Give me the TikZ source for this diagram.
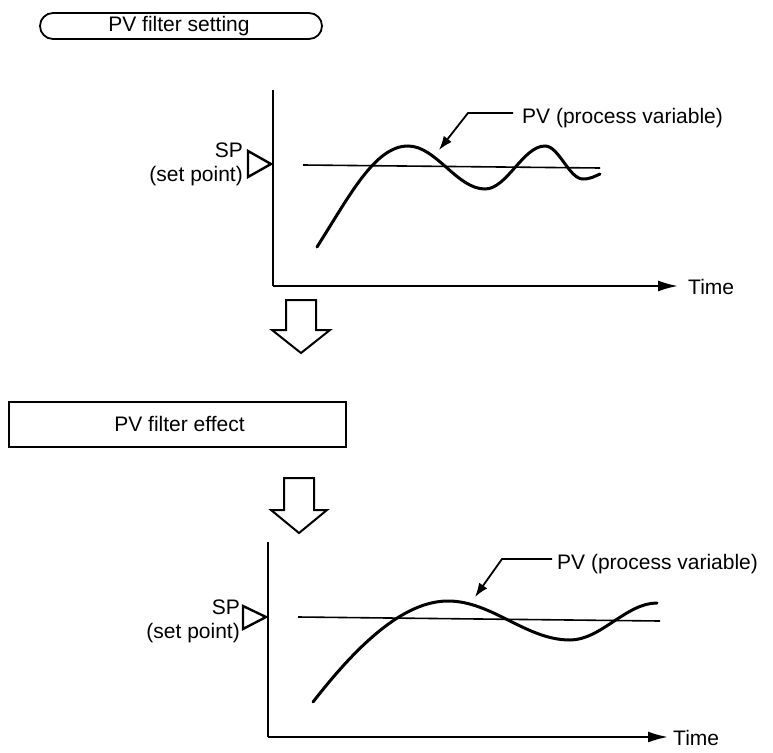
\documentclass[tikz,border=0pt]{standalone}
\usepackage{fontspec}
\setmainfont{Liberation Sans}
\usetikzlibrary{arrows.meta}
\begin{document}
\begin{tikzpicture}[x=1pt,y=-1pt,
  every node/.style={font=\fontsize{21}{24}\selectfont, inner sep=0pt},
  boxline/.style={line width=1.8pt},
  axisline/.style={line width=2pt, -{Latex[length=20pt,width=11pt]}},
  curveline/.style={line width=3pt, line cap=round},
  spline/.style={line width=1.6pt},
  spmark/.style={line width=2.4pt, line join=miter},
  leader/.style={line width=1.8pt, -{Latex[length=14pt,width=10pt]}},
  hollow/.style={line width=2pt, line join=miter}]
\useasboundingbox (0,0) rectangle (773,752);

% top title box
\node[draw, boxline, rounded corners=13pt, minimum width=282pt, minimum height=26pt] (title1) at (181,26) {};
\node (title1t) at (179,26) {PV filter setting};

% graph 1
\coordinate (o1) at (273,286);
\coordinate (ytop1) at (273,90);
\coordinate (xend1) at (678,286);
\draw[line width=2pt] (ytop1) -- (o1);
\draw[axisline] (o1) -- (xend1);
\node[anchor=west] (time1) at (688,287) {Time};
\draw[spline] (303,165) -- (600,168);
\draw[spmark] (248,151) -- (248,177) -- (271,164) -- cycle;
\node[anchor=north east, align=right] (sp1) at (243,143) {SP\\(set point)};
\draw[curveline] (317,247) .. controls (350,195) and (375,146) .. (408,146)
  .. controls (436,146) and (457,189) .. (485,189)
  .. controls (507,189) and (523,146) .. (545,146)
  .. controls (559,146) and (569,179) .. (583,179)
  .. controls (591,179) and (595,176) .. (600,174);
\node[anchor=base west] (pv1) at (522,123) {PV (process variable)};
\coordinate (lstart1) at (513,113);
\coordinate (bend1) at (468,113);
\coordinate (tip1) at (439,150);
\draw[leader] (lstart1) -- (bend1) -- (tip1);

% hollow arrow 1
\draw[hollow] (286,300) -- (316,300) -- (316,330) -- (330,330) -- (301,353) -- (272,330) -- (286,330) -- cycle;

% effect box
\node[draw, boxline, minimum width=337pt, minimum height=45pt] (box2) at (177.5,424.5) {};
\node (box2t) at (179.5,424) {PV filter effect};

% hollow arrow 2
\draw[hollow] (284,478) -- (314,478) -- (314,510) -- (327,510) -- (299,533) -- (271,510) -- (284,510) -- cycle;

% graph 2
\coordinate (o2) at (268,737);
\coordinate (ytop2) at (268,542);
\coordinate (xend2) at (668,737);
\draw[line width=2pt] (ytop2) -- (o2);
\draw[axisline] (o2) -- (xend2);
\node[anchor=west] (time2) at (673,738) {Time};
\draw[spline] (298,617) -- (660,621);
\draw[spmark] (243,606) -- (243,629) -- (266,617) -- cycle;
\node[anchor=north east, align=right] (sp2) at (240,600) {SP\\(set point)};
\draw[curveline] (313,702) .. controls (355,648) and (402,601) .. (448,601)
  .. controls (492,601) and (526,640) .. (570,640)
  .. controls (601,640) and (626,603) .. (657,603);
\node[anchor=base west] (pv2) at (557,569) {PV (process variable)};
\coordinate (lstart2) at (552,559);
\coordinate (bend2) at (502,559);
\coordinate (tip2) at (475,597);
\draw[leader] (lstart2) -- (bend2) -- (tip2);
\end{tikzpicture}
\end{document}
